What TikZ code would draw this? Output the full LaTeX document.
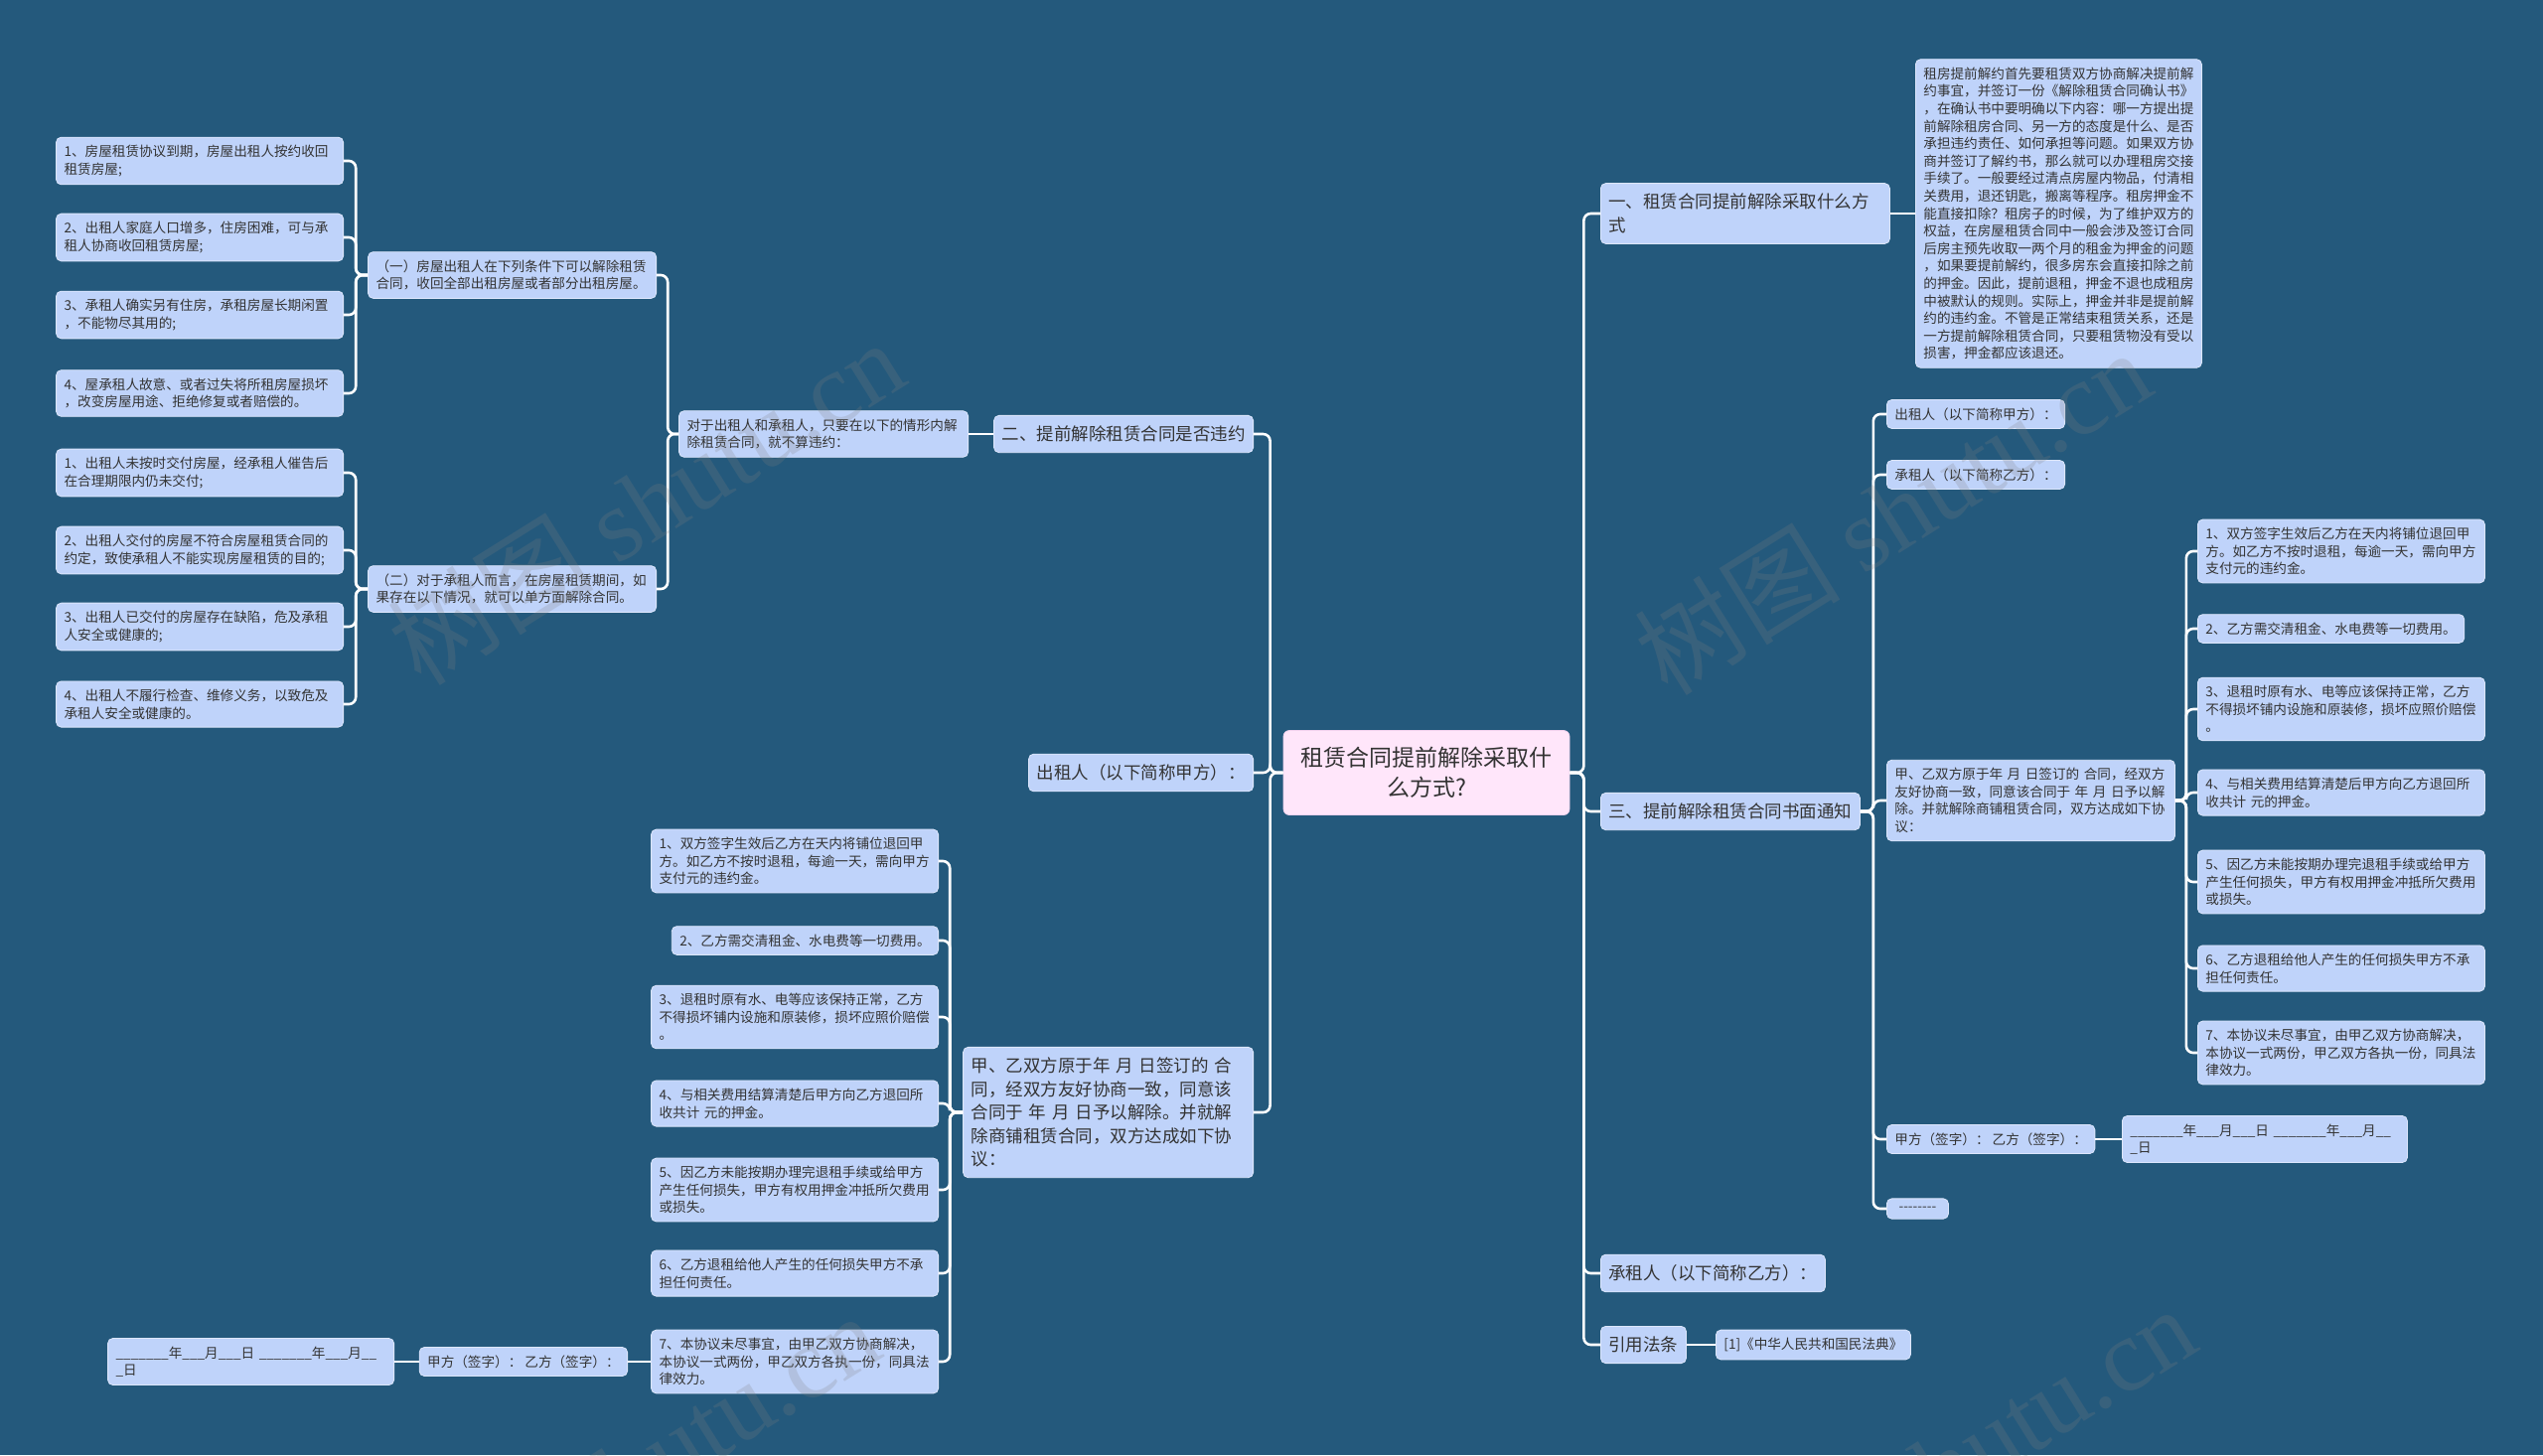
\documentclass[tikz,border=0pt]{standalone}
\usepackage{fontspec}
\setmainfont{Noto Sans CJK SC}
\newfontfamily\wmserif{Liberation Serif}
\definecolor{bg}{HTML}{24597C}
\definecolor{nodefill}{HTML}{BFD3FA}
\definecolor{nodeedge}{HTML}{DCE6FC}
\definecolor{ctrfill}{HTML}{FFE6FA}
\definecolor{ctredge}{HTML}{F3D3EE}
\definecolor{textc}{HTML}{333333}
\newcommand{\hy}{\mbox{-}}
\begin{document}
\begin{tikzpicture}[x=1pt,y=-1pt,
  base/.style={rounded corners=5pt, fill=nodefill, draw=nodeedge, line width=0.8pt, text=textc, align=left},
  sm/.style={base, font=\fontsize{13.6}{17.6}\selectfont, inner xsep=8pt, inner ysep=8pt},
  md/.style={base, font=\fontsize{17.5}{23.5}\selectfont, inner xsep=8pt, inner ysep=10.5pt},
  ctrbox/.style={rounded corners=6pt, fill=ctrfill, draw=ctredge, line width=0.8pt, text=textc, align=center,
    font=\fontsize{23}{30}\selectfont, text width=272pt, minimum height=85pt, inner sep=8pt},
  conn/.style={draw=white, line width=2.6pt, rounded corners=7pt},
  wm/.style={text=gray, opacity=0.22, rotate=32, font=\fontsize{104}{110}\selectfont}
]
\fill[bg] (0,0) rectangle (2560,1465);
\useasboundingbox (0,0) rectangle (2560,1465);

% ---------- centre ----------
\node[ctrbox] (ctr) at (1436,778) {租赁合同提前解除采取什\\么方式?};

% ---------- left side ----------
\node[md, anchor=east] (L2) at (1262,437) {二、提前解除租赁合同是否违约};
\node[md, anchor=east] (L3) at (1262,778) {出租人（以下简称甲方）：};
\node[md, anchor=east, text width=276pt] (L4) at (1262,1120) {甲、乙双方原于年 月 日签订的 合\\同，经双方友好协商一致，同意该\\合同于 年 月 日予以解除。并就解\\除商铺租赁合同，双方达成如下协\\议：};

\node[sm, anchor=east, text width=275pt] (lx) at (975,437) {对于出租人和承租人，只要在以下的情形内解\\除租赁合同，就不算违约：};
\node[sm, anchor=east, text width=274pt] (la) at (661,277) {（一）房屋出租人在下列条件下可以解除租赁\\合同，收回全部出租房屋或者部分出租房屋。};
\node[sm, anchor=east, text width=274pt] (lb) at (661,593) {（二）对于承租人而言，在房屋租赁期间，如\\果存在以下情况，就可以单方面解除合同。};

\node[sm, anchor=east, text width=273pt] (la1) at (346,162) {1、房屋租赁协议到期，房屋出租人按约收回\\租赁房屋;};
\node[sm, anchor=east, text width=273pt] (la2) at (346,239) {2、出租人家庭人口增多，住房困难，可与承\\租人协商收回租赁房屋;};
\node[sm, anchor=east, text width=273pt] (la3) at (346,317) {3、承租人确实另有住房，承租房屋长期闲置\\，不能物尽其用的;};
\node[sm, anchor=east, text width=273pt] (la4) at (346,396) {4、屋承租人故意、或者过失将所租房屋损坏\\，改变房屋用途、拒绝修复或者赔偿的。};
\node[sm, anchor=east, text width=273pt] (lb1) at (346,476) {1、出租人未按时交付房屋，经承租人催告后\\在合理期限内仍未交付;};
\node[sm, anchor=east, text width=273pt] (lb2) at (346,554) {2、出租人交付的房屋不符合房屋租赁合同的\\约定，致使承租人不能实现房屋租赁的目的;};
\node[sm, anchor=east, text width=273pt] (lb3) at (346,631) {3、出租人已交付的房屋存在缺陷，危及承租\\人安全或健康的;};
\node[sm, anchor=east, text width=273pt] (lb4) at (346,709) {4、出租人不履行检查、维修义务，以致危及\\承租人安全或健康的。};

\node[sm, anchor=east, text width=273pt] (m1) at (945,867) {1、双方签字生效后乙方在天内将铺位退回甲\\方。如乙方不按时退租，每逾一天，需向甲方\\支付元的违约金。};
\node[sm, anchor=east] (m2) at (945,947) {2、乙方需交清租金、水电费等一切费用。};
\node[sm, anchor=east, text width=273pt] (m3) at (945,1024) {3、退租时原有水、电等应该保持正常，乙方\\不得损坏铺内设施和原装修，损坏应照价赔偿\\。};
\node[sm, anchor=east, text width=273pt] (m4) at (945,1111) {4、与相关费用结算清楚后甲方向乙方退回所\\收共计 元的押金。};
\node[sm, anchor=east, text width=273pt] (m5) at (945,1198) {5、因乙方未能按期办理完退租手续或给甲方\\产生任何损失，甲方有权用押金冲抵所欠费用\\或损失。};
\node[sm, anchor=east, text width=273pt] (m6) at (945,1282) {6、乙方退租给他人产生的任何损失甲方不承\\担任何责任。};
\node[sm, anchor=east, text width=273pt] (m7) at (945,1371) {7、本协议未尽事宜，由甲乙双方协商解决，\\本协议一式两份，甲乙双方各执一份，同具法\\律效力。};
\node[sm, anchor=east] (ms) at (632,1371) {甲方（签字）： 乙方（签字）：};
\node[sm, anchor=east, text width=272pt] (mdt) at (397,1371) {\_\_\_\_\_\_\_年\_\_\_月\_\_\_日 \_\_\_\_\_\_\_年\_\_\_月\_\_\\\_日};

% ---------- right side ----------
\node[md, anchor=west, text width=275pt] (R1) at (1611,215) {一、租赁合同提前解除采取什么方\\式};
\node[sm, anchor=west, text width=272pt] (R1t) at (1928,215) {租房提前解约首先要租赁双方协商解决提前解\\约事宜，并签订一份《解除租赁合同确认书》\\，在确认书中要明确以下内容：哪一方提出提\\前解除租房合同、另一方的态度是什么、是否\\承担违约责任、如何承担等问题。如果双方协\\商并签订了解约书，那么就可以办理租房交接\\手续了。一般要经过清点房屋内物品，付清相\\关费用，退还钥匙，搬离等程序。租房押金不\\能直接扣除？租房子的时候，为了维护双方的\\权益，在房屋租赁合同中一般会涉及签订合同\\后房主预先收取一两个月的租金为押金的问题\\，如果要提前解约，很多房东会直接扣除之前\\的押金。因此，提前退租，押金不退也成租房\\中被默认的规则。实际上，押金并非是提前解\\约的违约金。不管是正常结束租赁关系，还是\\一方提前解除租赁合同，只要租赁物没有受以\\损害，押金都应该退还。};
\node[md, anchor=west] (R3) at (1611,817) {三、提前解除租赁合同书面通知};
\node[md, anchor=west] (R4) at (1611,1282) {承租人（以下简称乙方）：};
\node[md, anchor=west] (R5) at (1611,1354) {引用法条};
\node[sm, anchor=west] (R5c) at (1727,1354) {[1]《中华人民共和国民法典》};

\node[sm, anchor=west] (c1) at (1899,417) {出租人（以下简称甲方）：};
\node[sm, anchor=west] (c2) at (1899,478) {承租人（以下简称乙方）：};
\node[sm, anchor=west, text width=274pt] (c3) at (1899,806) {甲、乙双方原于年 月 日签订的 合同，经双方\\友好协商一致，同意该合同于 年 月 日予以解\\除。并就解除商铺租赁合同，双方达成如下协\\议：};
\node[sm, anchor=west] (c4) at (1899,1147) {甲方（签字）： 乙方（签字）：};
\node[sm, anchor=west, text width=271pt] (c4d) at (2136,1147) {\_\_\_\_\_\_\_年\_\_\_月\_\_\_日 \_\_\_\_\_\_\_年\_\_\_月\_\_\\\_日};
\node[sm, anchor=west, minimum width=62pt] (c5) at (1899,1217) {\hy\hy\hy\hy\hy\hy\hy\hy};

\node[sm, anchor=west, text width=273pt] (n1) at (2212,555) {1、双方签字生效后乙方在天内将铺位退回甲\\方。如乙方不按时退租，每逾一天，需向甲方\\支付元的违约金。};
\node[sm, anchor=west] (n2) at (2212,633) {2、乙方需交清租金、水电费等一切费用。};
\node[sm, anchor=west, text width=273pt] (n3) at (2212,714) {3、退租时原有水、电等应该保持正常，乙方\\不得损坏铺内设施和原装修，损坏应照价赔偿\\。};
\node[sm, anchor=west, text width=273pt] (n4) at (2212,798) {4、与相关费用结算清楚后甲方向乙方退回所\\收共计 元的押金。};
\node[sm, anchor=west, text width=273pt] (n5) at (2212,888) {5、因乙方未能按期办理完退租手续或给甲方\\产生任何损失，甲方有权用押金冲抵所欠费用\\或损失。};
\node[sm, anchor=west, text width=273pt] (n6) at (2212,975) {6、乙方退租给他人产生的任何损失甲方不承\\担任何责任。};
\node[sm, anchor=west, text width=273pt] (n7) at (2212,1060) {7、本协议未尽事宜，由甲乙双方协商解决，\\本协议一式两份，甲乙双方各执一份，同具法\\律效力。};

% ---------- connectors ----------
\foreach \c in {L2,L3,L4} \draw[conn] (ctr.west) -- ++(-13,0) |- (\c.east);
\foreach \c in {R1,R3,R4,R5} \draw[conn] (ctr.east) -- ++(14,0) |- (\c.west);
\draw[conn] (L2.west) -- (lx.east);
\foreach \c in {la,lb} \draw[conn] (lx.west) -- ++(-11,0) |- (\c.east);
\foreach \c in {la1,la2,la3,la4} \draw[conn] (la.west) -- ++(-12,0) |- (\c.east);
\foreach \c in {lb1,lb2,lb3,lb4} \draw[conn] (lb.west) -- ++(-12,0) |- (\c.east);
\foreach \c in {m1,m2,m3,m4,m5,m6,m7} \draw[conn] (L4.west) -- ++(-13,0) |- (\c.east);
\draw[conn] (m7.west) -- (ms.east);
\draw[conn] (ms.west) -- (mdt.east);
\draw[conn] (R1.east) -- (R1t.west);
\foreach \c in {c1,c2,c3,c4,c5} \draw[conn] (R3.east) -- ++(13,0) |- (\c.west);
\foreach \c in {n1,n2,n3,n4,n5,n6,n7} \draw[conn] (c3.east) -- ++(11,0) |- (\c.west);
\draw[conn] (c4.east) -- (c4d.west);
\draw[conn] (R5.east) -- (R5c.west);

% ---------- watermarks ----------
\begin{scope}
\clip (0,0) rectangle (2560,1465);
\node[wm] (w1) at (650,505) {树图 {\wmserif shutu.cn}};
\node[wm] (w2) at (1905,515) {树图 {\wmserif shutu.cn}};
\node[wm] (w3) at (625,1485) {树图 {\wmserif shutu.cn}};
\node[wm] (w4) at (1950,1478) {树图 {\wmserif shutu.cn}};
\end{scope}
\end{tikzpicture}
\end{document}
